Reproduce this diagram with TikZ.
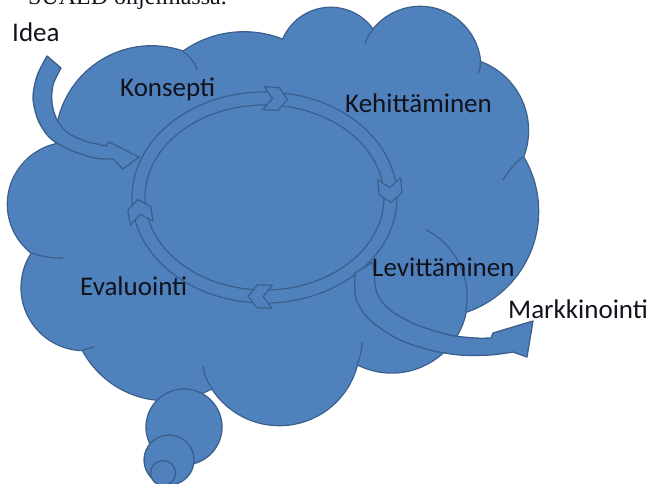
\documentclass[tikz,border=0pt]{standalone}
\usepackage{fontspec}
\setmainfont{Carlito}
\newfontfamily\serifcut{Liberation Serif}
\definecolor{cloudfill}{RGB}{79,129,189}
\definecolor{cloudline}{RGB}{58,95,140}
\definecolor{txt}{RGB}{18,18,28}
\tikzset{
  lobeline/.style={draw=cloudline, line width=2.6pt},
  lobefill/.style={fill=cloudfill},
  cloudshape/.style={fill=cloudfill, draw=cloudline, line width=1.3pt, line join=round},
  innerarc/.style={draw=cloudline, line width=1.2pt},
  ringline/.style={draw=cloudline, line width=1.2pt},
  chevshape/.style={fill=cloudfill, draw=cloudline, line width=1.2pt, line join=round},
  arrowshape/.style={fill=cloudfill, draw=cloudline, line width=1.3pt, line join=round},
  lbl/.style={font=\fontsize{27}{30}\selectfont, text=txt, anchor=base west, inner sep=0pt}
}
\newcommand\mychev[3]{%
  \begin{scope}[shift={(#1,#2)}, rotate=#3]
    \filldraw[chevshape] (-12,-11.5) -- (3,-11.5) -- (12,0) -- (3,11.5) -- (-12,11.5) -- (-3,0) -- cycle;
  \end{scope}}
\begin{document}
\begin{tikzpicture}[x=1pt, y=-1pt]
\useasboundingbox (0,0) rectangle (653,484);

% cut-off heading line
\node[font=\serifcut\fontsize{24}{28}\selectfont, text=txt, anchor=base east, inner sep=0pt] (hdr) at (227,4.5) {SUALD ohjelmassa.};

% cloud: union of lobes (outline pass, then fill pass)
\path[lobeline]
  (151.6,142) circle (95.6)
  (243.9,137) circle (104.6)
  (330.7,59.3) circle (51.4)
  (420.2,67) circle (60)
  (454.9,130.6) circle (73)
  (432.1,211.3) circle (105.9)
  (391.7,297) circle (75.4)
  (279.4,345.1) circle (79.9)
  (166,305.9) circle (94.1)
  (84.1,287.6) circle (62.4)
  (69.4,204.3) circle (61.4);
\path[lobefill]
  (151.6,142) circle (95.6)
  (243.9,137) circle (104.6)
  (330.7,59.3) circle (51.4)
  (420.2,67) circle (60)
  (454.9,130.6) circle (73)
  (432.1,211.3) circle (105.9)
  (391.7,297) circle (75.4)
  (279.4,345.1) circle (79.9)
  (166,305.9) circle (94.1)
  (84.1,287.6) circle (62.4)
  (69.4,204.3) circle (61.4)
  (275,220) ellipse [x radius=200, y radius=150];

% inner arcs of the cloud
\draw[innerarc] (183,52) .. controls (190,56) and (195,63) .. (197,70);
\draw[innerarc] (373,30) .. controls (369,34) and (366,39) .. (365,44);
\draw[innerarc] (480,62) .. controls (481,66) and (480,70) .. (478,73);
\draw[innerarc] (522.7,157) .. controls (515,163) and (509,170) .. (503,180);
\draw[innerarc] (391.7,297) ++(11.6:75.4) arc [start angle=11.6, end angle=-63, radius=75.4];
\draw[innerarc] (357,364) .. controls (360,358) and (362,350) .. (362,342);
\draw[innerarc] (212,388) .. controls (207,382) and (204,374) .. (203,366);
\draw[innerarc] (83,350) .. controls (86,349) and (90,348) .. (94,347);
\draw[innerarc] (32,253) .. controls (42,257) and (52,258) .. (63,258);

% cycle ring
\draw[ringline] (264.5,197.5) ellipse [x radius=132.5, y radius=105.5];
\draw[ringline] (264.5,197.5) ellipse [x radius=119.5, y radius=92.5];
\mychev{275.5}{98.9}{-3.9}
\mychev{390.2}{190.6}{-84.9}
\mychev{260.1}{296.4}{178.4}
\mychev{139.7}{211.3}{100}

% Idea arrow
\filldraw[arrowshape]
  plot[smooth] coordinates {(47,56) (37,76) (33,98) (38,120) (50,138) (70,150) (95,158) (113,159)}
  -- (123,169) -- (139,157) -- (109,142)
  -- plot[smooth] coordinates {(106,146) (85,141) (68,133) (57,120) (52,103) (53,85) (61,68)}
  -- cycle;

% Markkinointi arrow
\filldraw[arrowshape]
  plot[smooth] coordinates {(355,273) (356,299) (370,320) (398,339) (430,350) (460,355) (490,355) (513,352)}
  -- (527,357) -- (533,321) -- (493,333)
  -- plot[smooth] coordinates {(491,338) (475,338) (450,335) (417,325) (390,310) (377,293) (373,262)}
  -- cycle;

% thought bubbles
\filldraw[cloudshape] (184,427) circle (38);
\filldraw[cloudshape] (169,460) circle (25);
\filldraw[cloudshape] (163,473) circle (12.5);

% labels
\node[lbl] (idea) at (12,42) {Idea};
\node[lbl] (konsepti) at (120,97) {Konsepti};
\node[lbl] (kehit) at (345,113) {Kehittäminen};
\node[lbl] (levit) at (372,276) {Levittäminen};
\node[lbl] (markk) at (508,318) {Markkinointi};
\node[lbl] (eval) at (80,295) {Evaluointi};
\end{tikzpicture}
\end{document}
